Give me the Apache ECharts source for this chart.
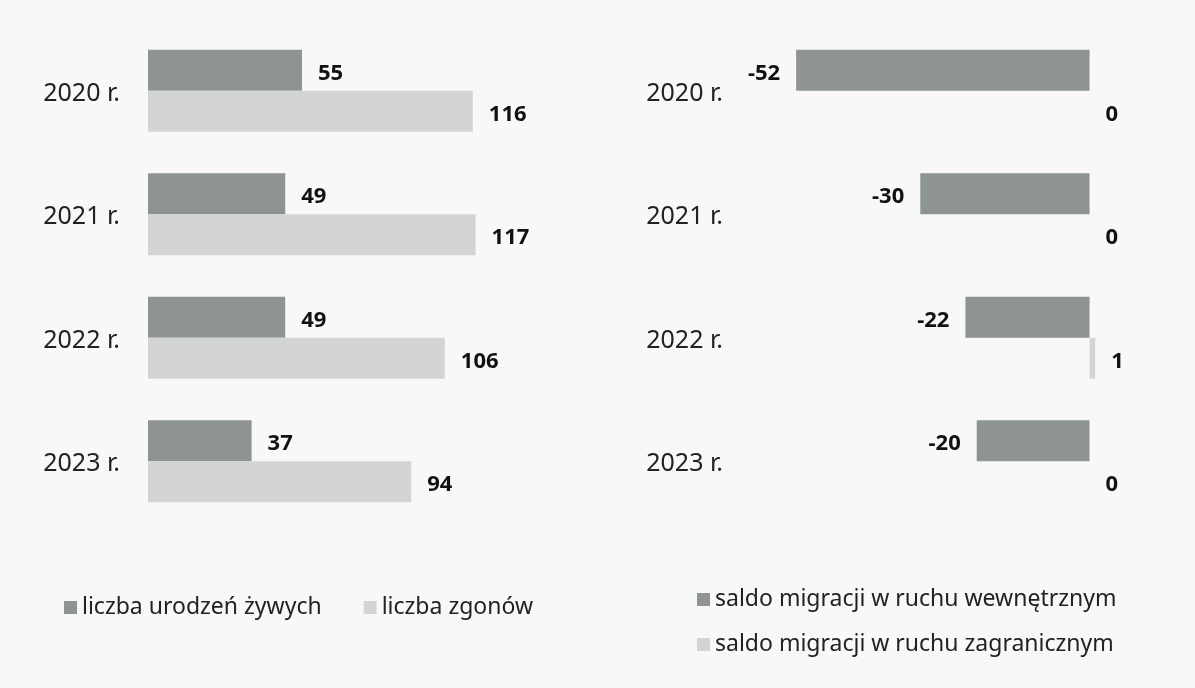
<!DOCTYPE html>
<html>
<head>
<meta charset="utf-8">
<script src="https://cdn.jsdelivr.net/npm/echarts@6/dist/echarts.min.js"></script>
<style>
html,body{margin:0;padding:0;background:#f8f8f7;}
#main{width:1195px;height:688px;}
</style>
</head>
<body>
<div id="main"></div>
<script>
const years = ['2020 r.', '2021 r.', '2022 r.', '2023 r.'];
const births = [55, 49, 49, 37];
const deaths = [116, 117, 106, 94];
const internalMigration = [-52, -30, -22, -20];
const foreignMigration = [0, 0, 1, 0];

const seriesNames = {
  births: 'liczba urodzeń żywych',
  deaths: 'liczba zgonów',
  internal: 'saldo migracji w ruchu wewnętrznym',
  foreign: 'saldo migracji w ruchu zagranicznym'
};

const DARK = '#8d9491';
const LIGHT = '#d2d4d5';
const FONT = 'Noto Sans';

const labelStyle = {
  show: true,
  fontFamily: FONT,
  fontSize: 22,
  fontWeight: 'bold',
  color: '#111',
  distance: 16,
  offset: [0, 3]
};

const catLabel = {
  margin: 28,
  formatter: function (v) { return '{c|' + v + '}'; },
  rich: {
    c: { fontFamily: FONT, fontSize: 25, color: '#222', padding: [6, 0, 0, 0] }
  }
};

const legendText = { fontFamily: FONT, fontSize: 23, color: '#222' };

const chart = echarts.init(document.getElementById('main'));
chart.setOption({
  backgroundColor: '#f8f8f7',
  animation: false,
  textStyle: { fontFamily: FONT },
  grid: [
    { left: 148, width: 392, top: 29, height: 494 },
    { left: 751, width: 395, top: 29, height: 494 }
  ],
  xAxis: [
    { gridIndex: 0, type: 'value', min: 0, max: 140, show: false },
    { gridIndex: 1, type: 'value', min: -60, max: 10, show: false }
  ],
  yAxis: [
    {
      gridIndex: 0, type: 'category', data: years, inverse: true,
      axisLine: { show: false }, axisTick: { show: false },
      axisLabel: catLabel
    },
    {
      gridIndex: 1, type: 'category', data: years, inverse: true,
      axisLine: { show: false }, axisTick: { show: false },
      axisLabel: catLabel
    }
  ],
  legend: [
    {
      data: [seriesNames.births, seriesNames.deaths],
      left: 59, top: 591, itemWidth: 13, itemHeight: 13, itemGap: 42,
      icon: 'rect',
      textStyle: legendText
    },
    {
      data: [seriesNames.internal, seriesNames.foreign],
      orient: 'vertical',
      left: 692, top: 583, itemWidth: 13, itemHeight: 13, itemGap: 22,
      icon: 'rect',
      textStyle: legendText
    }
  ],
  series: [
    {
      name: seriesNames.births, type: 'bar', xAxisIndex: 0, yAxisIndex: 0,
      data: births, barWidth: 41, barGap: '0%',
      itemStyle: { color: DARK },
      label: Object.assign({ position: 'right' }, labelStyle)
    },
    {
      name: seriesNames.deaths, type: 'bar', xAxisIndex: 0, yAxisIndex: 0,
      data: deaths, barWidth: 41, barGap: '0%',
      itemStyle: { color: LIGHT },
      label: Object.assign({ position: 'right' }, labelStyle)
    },
    {
      name: seriesNames.internal, type: 'bar', xAxisIndex: 1, yAxisIndex: 1,
      data: internalMigration, barWidth: 41, barGap: '0%',
      itemStyle: { color: DARK },
      label: Object.assign({ position: 'left' }, labelStyle)
    },
    {
      name: seriesNames.foreign, type: 'bar', xAxisIndex: 1, yAxisIndex: 1,
      data: foreignMigration, barWidth: 41, barGap: '0%',
      itemStyle: { color: LIGHT },
      label: Object.assign({ position: 'right' }, labelStyle)
    }
  ]
});
</script>
</body>
</html>
